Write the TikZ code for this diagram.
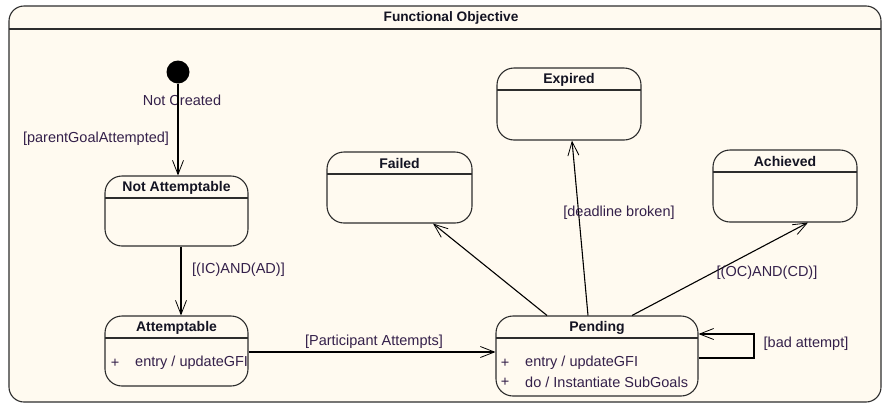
\documentclass[tikz,border=0pt]{standalone}
\usepackage{fontspec}
\setmainfont{Liberation Sans}
\usetikzlibrary{arrows.meta,calc}

\definecolor{paper}{RGB}{255,250,240}
\definecolor{edge}{RGB}{45,45,45}
\definecolor{ink}{RGB}{52,32,74}
\definecolor{headink}{RGB}{20,20,35}

\tikzset{
  every node/.style={font=\fontsize{14.5}{17}\selectfont, text=ink, inner sep=0pt},
  headline/.style={draw=edge, line width=1.2pt},
  statebox/.style={draw=edge, fill=paper, rounded corners=17pt, line width=1.1pt,
    path picture={\draw[headline] ([yshift=-22pt]path picture bounding box.north west)
      -- ([yshift=-22pt]path picture bounding box.north east);}},
  frame/.style={draw=edge, fill=paper, rounded corners=15pt, line width=1.1pt,
    path picture={\draw[headline] ([yshift=-23pt]path picture bounding box.north west)
      -- ([yshift=-23pt]path picture bounding box.north east);}},
  title/.style={font=\bfseries\fontsize{14}{17}\selectfont, text=headink},
  trans/.style={draw=black, line width=1.1pt, -{Straight Barb[length=14pt,width=11pt,line width=0.8pt]}},
  lbl/.style={text=ink},
}

\begin{document}
\begin{tikzpicture}[x=1pt,y=-1pt]
\useasboundingbox (0,0) rectangle (883,405);

% enclosing composite state
\node[frame, minimum width=872pt, minimum height=396pt] (fo) at (445,204) {};
\node[title, font=\bfseries\fontsize{13.7}{16}\selectfont] (fotitle) at (451,18) {Functional Objective};

% initial pseudostate
\node[circle, fill=black, minimum size=23pt] (init) at (178,72) {};
\node[lbl] (nclbl) at (182,100) {Not Created};

% states
\node[statebox, minimum width=143pt, minimum height=70pt] (na) at (176.5,211) {};
\node[title] (natitle) at ([yshift=-12pt]na.north) {Not Attemptable};

\node[statebox, minimum width=143pt, minimum height=70pt] (at) at (176.5,351) {};
\node[title] (attitle) at ([yshift=-12pt]at.north) {Attemptable};
\node[lbl] (atplus) at (115,363) {+};
\node[lbl, anchor=west] (atentry) at (135,363) {entry / updateGFI};

\node[statebox, minimum width=202pt, minimum height=80pt] (pe) at (597,356) {};
\node[title] (petitle) at ([yshift=-12pt]pe.north) {Pending};
\node[lbl] (peplus1) at (505,363) {+};
\node[lbl, anchor=west] (peentry) at (525,363) {entry / updateGFI};
\node[lbl] (peplus2) at (505,382) {+};
\node[lbl, anchor=west] (pedo) at (525,382) {do / Instantiate SubGoals};

\node[statebox, minimum width=144pt, minimum height=72pt] (ex) at (569,104) {};
\node[title] (extitle) at ([yshift=-12pt]ex.north) {Expired};

\node[statebox, minimum width=145pt, minimum height=71pt] (fa) at (399.5,187.5) {};
\node[title] (fatitle) at ([yshift=-12pt]fa.north) {Failed};

\node[statebox, minimum width=144pt, minimum height=72pt] (ac) at (785,186) {};
\node[title] (actitle) at ([yshift=-12pt]ac.north) {Achieved};

% transitions
\draw[trans] (init) -- (init |- na.north);
\node[lbl] (pgl) at (96,139) {[parentGoalAttempted]};

\draw[trans] ([xshift=4.5pt]na.south) -- ([xshift=4.5pt]at.north);
\node[lbl] (icad) at (238.5,270) {[(IC)AND(AD)]};

\draw[trans] ([yshift=-1pt]at.east) -- ([yshift=-1pt]at.east -| pe.west);
\node[lbl] (pa) at (374,342) {[Participant Attempts]};

\draw[trans] ([xshift=-50pt]pe.north) -- ([xshift=33.5pt]fa.south);
\draw[trans] ([xshift=-9pt]pe.north) -- ([xshift=3pt]ex.south);
\node[lbl] (dl) at (619,213) {[deadline broken]};
\draw[trans] ([xshift=35pt]pe.north) -- ([xshift=23pt]ac.south);
\node[lbl] (occd) at (767,273) {[(OC)AND(CD)]};

% self transition on Pending
\coordinate (loopa) at (754,358);
\coordinate (loopb) at (754,334);
\draw[trans] ([yshift=-2pt]pe.east) -- (loopa) -- (loopb) -- ([yshift=22pt]pe.east);
\node[lbl] (ba) at (806,344) {[bad attempt]};
\end{tikzpicture}
\end{document}
